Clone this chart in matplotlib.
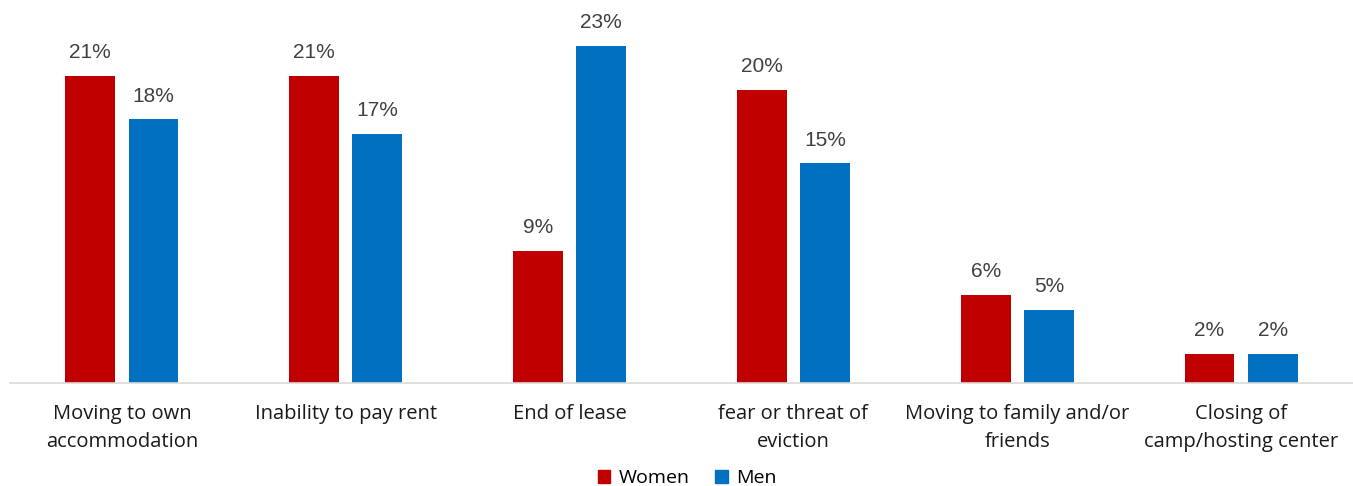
import matplotlib.pyplot as plt
import numpy as np
from matplotlib.patches import Patch

categories = [
    'Moving to own\naccommodation',
    'Inability to pay rent',
    'End of lease',
    'fear or threat of\neviction',
    'Moving to family and/or\nfriends',
    'Closing of\ncamp/hosting center',
]
women = [21, 21, 9, 20, 6, 2]
men = [18, 17, 23, 15, 5, 2]

RED = '#C00000'
BLUE = '#0070C0'

fig = plt.figure(figsize=(13.53, 4.86), dpi=100)
ax = fig.add_axes([10 / 1353, 103 / 486, 1343 / 1353, 366 / 486])

x = np.arange(len(categories))
width = 0.223
offset = 0.141

bars_w = ax.bar(x - offset, women, width, color=RED, label='Women')
bars_m = ax.bar(x + offset, men, width, color=BLUE, label='Men')

for bars in (bars_w, bars_m):
    for b in bars:
        ax.annotate(f'{b.get_height():.0f}%',
                    (b.get_x() + b.get_width() / 2, b.get_height()),
                    xytext=(0, 10), textcoords='offset points',
                    ha='center', va='bottom', fontsize=15,
                    color='#404040', family='Liberation Sans',
                    annotation_clip=False)

ax.set_xlim(-0.5, len(categories) - 0.5)
ax.set_ylim(0, 25)
ax.set_xticks(x)
ax.set_xticklabels(categories, fontsize=14.5, family='Open Sans',
                   color='#1a1a1a', linespacing=1.55)
ax.tick_params(axis='x', length=0, pad=15)
ax.set_yticks([])

for side in ('top', 'right', 'left'):
    ax.spines[side].set_visible(False)
ax.spines['bottom'].set_color('#D9D9D9')
ax.spines['bottom'].set_linewidth(1.2)

handles = [Patch(color=RED, label='Women'), Patch(color=BLUE, label='Men')]
fig.legend(handles=handles, loc='center', bbox_to_anchor=(0.508, 8 / 486),
           ncol=2, frameon=False,
           prop={'family': 'Open Sans', 'size': 14},
           handlelength=0.65, handleheight=0.65, handletextpad=0.45,
           columnspacing=1.3)

fig.savefig('out.png', dpi=100)
